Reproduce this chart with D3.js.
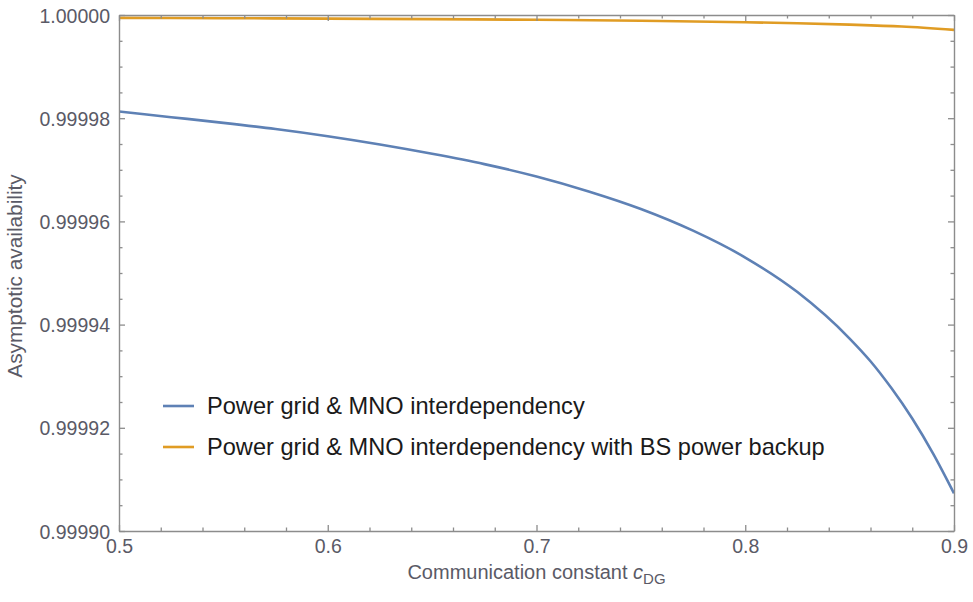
<!DOCTYPE html>
<html>
<head>
<meta charset="utf-8">
<script src="https://cdn.jsdelivr.net/npm/d3@7"></script>
<style>
  html, body { margin: 0; padding: 0; background: #fff; }
  svg { display: block; }
  text { font-family: "Liberation Sans", Arial, sans-serif; }
</style>
</head>
<body>
<svg id="chart" width="973" height="602"></svg>
<script>
// Communication constant c_DG
const cGrid = [0.50, 0.525, 0.55, 0.575, 0.60, 0.625, 0.65, 0.675, 0.70, 0.725, 0.75,
               0.775, 0.80, 0.825, 0.85, 0.86, 0.87, 0.88, 0.89, 0.90];
// Asymptotic availability: power grid & MNO interdependency
const availInterdep = [0.9999813, 0.9999802, 0.9999791, 0.9999779, 0.9999765, 0.9999749,
                       0.9999731, 0.9999711, 0.9999687, 0.9999658, 0.9999624, 0.9999582,
                       0.9999530, 0.9999463, 0.9999373, 0.9999329, 0.9999277, 0.9999218,
                       0.9999150, 0.9999073];
// Asymptotic availability: with BS power backup
const cBackup = [0.50, 0.55, 0.60, 0.65, 0.70, 0.75, 0.80, 0.825, 0.85, 0.875, 0.90];
const availBackup = [0.99999945, 0.99999938, 0.99999930, 0.99999920, 0.99999907, 0.99999888,
                     0.99999860, 0.99999840, 0.99999813, 0.99999776, 0.99999712];

const xTicks = [0.5, 0.6, 0.7, 0.8, 0.9];
const yTicks = [0.99990, 0.99992, 0.99994, 0.99996, 0.99998, 1.00000];
const legendLabels = ["Power grid & MNO interdependency",
                      "Power grid & MNO interdependency with BS power backup"];
const seriesColors = ["#5e81b5", "#e09c24"];

const svg = d3.select("#chart");
const m = { left: 119, top: 15, right: 19, bottom: 71 };
const W = 973, H = 602;

const x = d3.scaleLinear().domain([0.5, 0.9]).range([m.left, W - m.right]);
const y = d3.scaleLinear().domain([0.99990, 1.00000]).range([H - m.bottom, m.top]);

const frameColor = "#8c8c8c";
const tickLabelColor = "#5a5a66";

// minor tick positions
const xMinor = d3.range(0, 21).map(i => 0.5 + i * 0.02)
  .filter(v => !xTicks.some(t => Math.abs(t - v) < 1e-9));
const yMinor = d3.range(0, 21).map(i => 0.99990 + i * 0.000005)
  .filter(v => !yTicks.some(t => Math.abs(t - v) < 1e-12));

svg.append("defs").append("clipPath").attr("id", "plotClip")
  .append("rect")
  .attr("x", m.left).attr("y", m.top)
  .attr("width", W - m.left - m.right).attr("height", H - m.top - m.bottom);

// curves
const series = [
  { xs: cGrid, ys: availInterdep, color: seriesColors[0] },
  { xs: cBackup, ys: availBackup, color: seriesColors[1] }
];
const line = d3.line().x(d => x(d[0])).y(d => y(d[1])).curve(d3.curveMonotoneX);
const gCurves = svg.append("g").attr("clip-path", "url(#plotClip)");
series.forEach(s => {
  gCurves.append("path")
    .datum(s.xs.map((c, i) => [c, s.ys[i]]))
    .attr("fill", "none")
    .attr("stroke", s.color)
    .attr("stroke-width", 2.6)
    .attr("d", line);
});

// frame axes
function styleAxis(g) {
  g.select(".domain").attr("stroke", frameColor).attr("stroke-width", 1.4);
  g.selectAll(".tick line").attr("stroke", frameColor).attr("stroke-width", 1.3);
  g.selectAll(".tick text").attr("fill", tickLabelColor)
    .style("font-size", "19.5px");
}
const innerMajor = 6, innerMinor = 3.5;

// bottom
const gB = svg.append("g").attr("transform", `translate(0,${H - m.bottom})`);
gB.call(d3.axisTop(x).tickValues(xMinor).tickSize(innerMinor).tickFormat(""));
gB.call(g => g.select(".domain").remove());
const gB2 = svg.append("g").attr("transform", `translate(0,${H - m.bottom})`)
  .call(d3.axisTop(x).tickValues(xTicks).tickSize(innerMajor).tickSizeOuter(0).tickFormat(d3.format(".1f")));
styleAxis(gB); styleAxis(gB2);
gB2.selectAll(".tick text").attr("dy", null).attr("y", 22);

// top
const gT = svg.append("g").attr("transform", `translate(0,${m.top})`);
gT.call(d3.axisBottom(x).tickValues(xMinor).tickSize(innerMinor).tickFormat(""));
gT.call(g => g.select(".domain").remove());
const gT2 = svg.append("g").attr("transform", `translate(0,${m.top})`)
  .call(d3.axisBottom(x).tickValues(xTicks).tickSize(innerMajor).tickSizeOuter(0).tickFormat(""));
styleAxis(gT); styleAxis(gT2);

// left
const gL = svg.append("g").attr("transform", `translate(${m.left},0)`);
gL.call(d3.axisRight(y).tickValues(yMinor).tickSize(innerMinor).tickFormat(""));
gL.call(g => g.select(".domain").remove());
const gL2 = svg.append("g").attr("transform", `translate(${m.left},0)`)
  .call(d3.axisRight(y).tickValues(yTicks).tickSize(innerMajor).tickSizeOuter(0).tickFormat(d3.format(".5f")));
styleAxis(gL); styleAxis(gL2);
gL2.selectAll(".tick text").attr("x", -9).attr("text-anchor", "end").attr("dy", "0.36em");

// right
const gR = svg.append("g").attr("transform", `translate(${W - m.right},0)`);
gR.call(d3.axisLeft(y).tickValues(yMinor).tickSize(innerMinor).tickFormat(""));
gR.call(g => g.select(".domain").remove());
const gR2 = svg.append("g").attr("transform", `translate(${W - m.right},0)`)
  .call(d3.axisLeft(y).tickValues(yTicks).tickSize(innerMajor).tickSizeOuter(0).tickFormat(""));
styleAxis(gR); styleAxis(gR2);

// axis titles
const xTitle = svg.append("text")
  .attr("x", (m.left + W - m.right) / 2).attr("y", 579)
  .attr("text-anchor", "middle")
  .attr("fill", tickLabelColor)
  .style("font-size", "20px");
xTitle.append("tspan").text("Communication constant ");
xTitle.append("tspan").attr("font-style", "italic").text("c");
xTitle.append("tspan").attr("dy", 5).style("font-size", "15px").text("DG");

svg.append("text")
  .attr("transform", "translate(22,276) rotate(-90)")
  .attr("text-anchor", "middle")
  .attr("fill", tickLabelColor)
  .style("font-size", "20.8px")
  .text("Asymptotic availability");

// legend
const legend = svg.append("g");
legendLabels.forEach((lbl, i) => {
  const yy = 406 + i * 41;
  legend.append("line")
    .attr("x1", 163).attr("x2", 194).attr("y1", yy).attr("y2", yy)
    .attr("stroke", seriesColors[i]).attr("stroke-width", 2.6);
  legend.append("text")
    .attr("x", 207).attr("y", yy).attr("dy", "0.36em")
    .attr("fill", "#1a1a1a")
    .style("font-size", "23.6px")
    .text(lbl);
});
</script>
</body>
</html>
